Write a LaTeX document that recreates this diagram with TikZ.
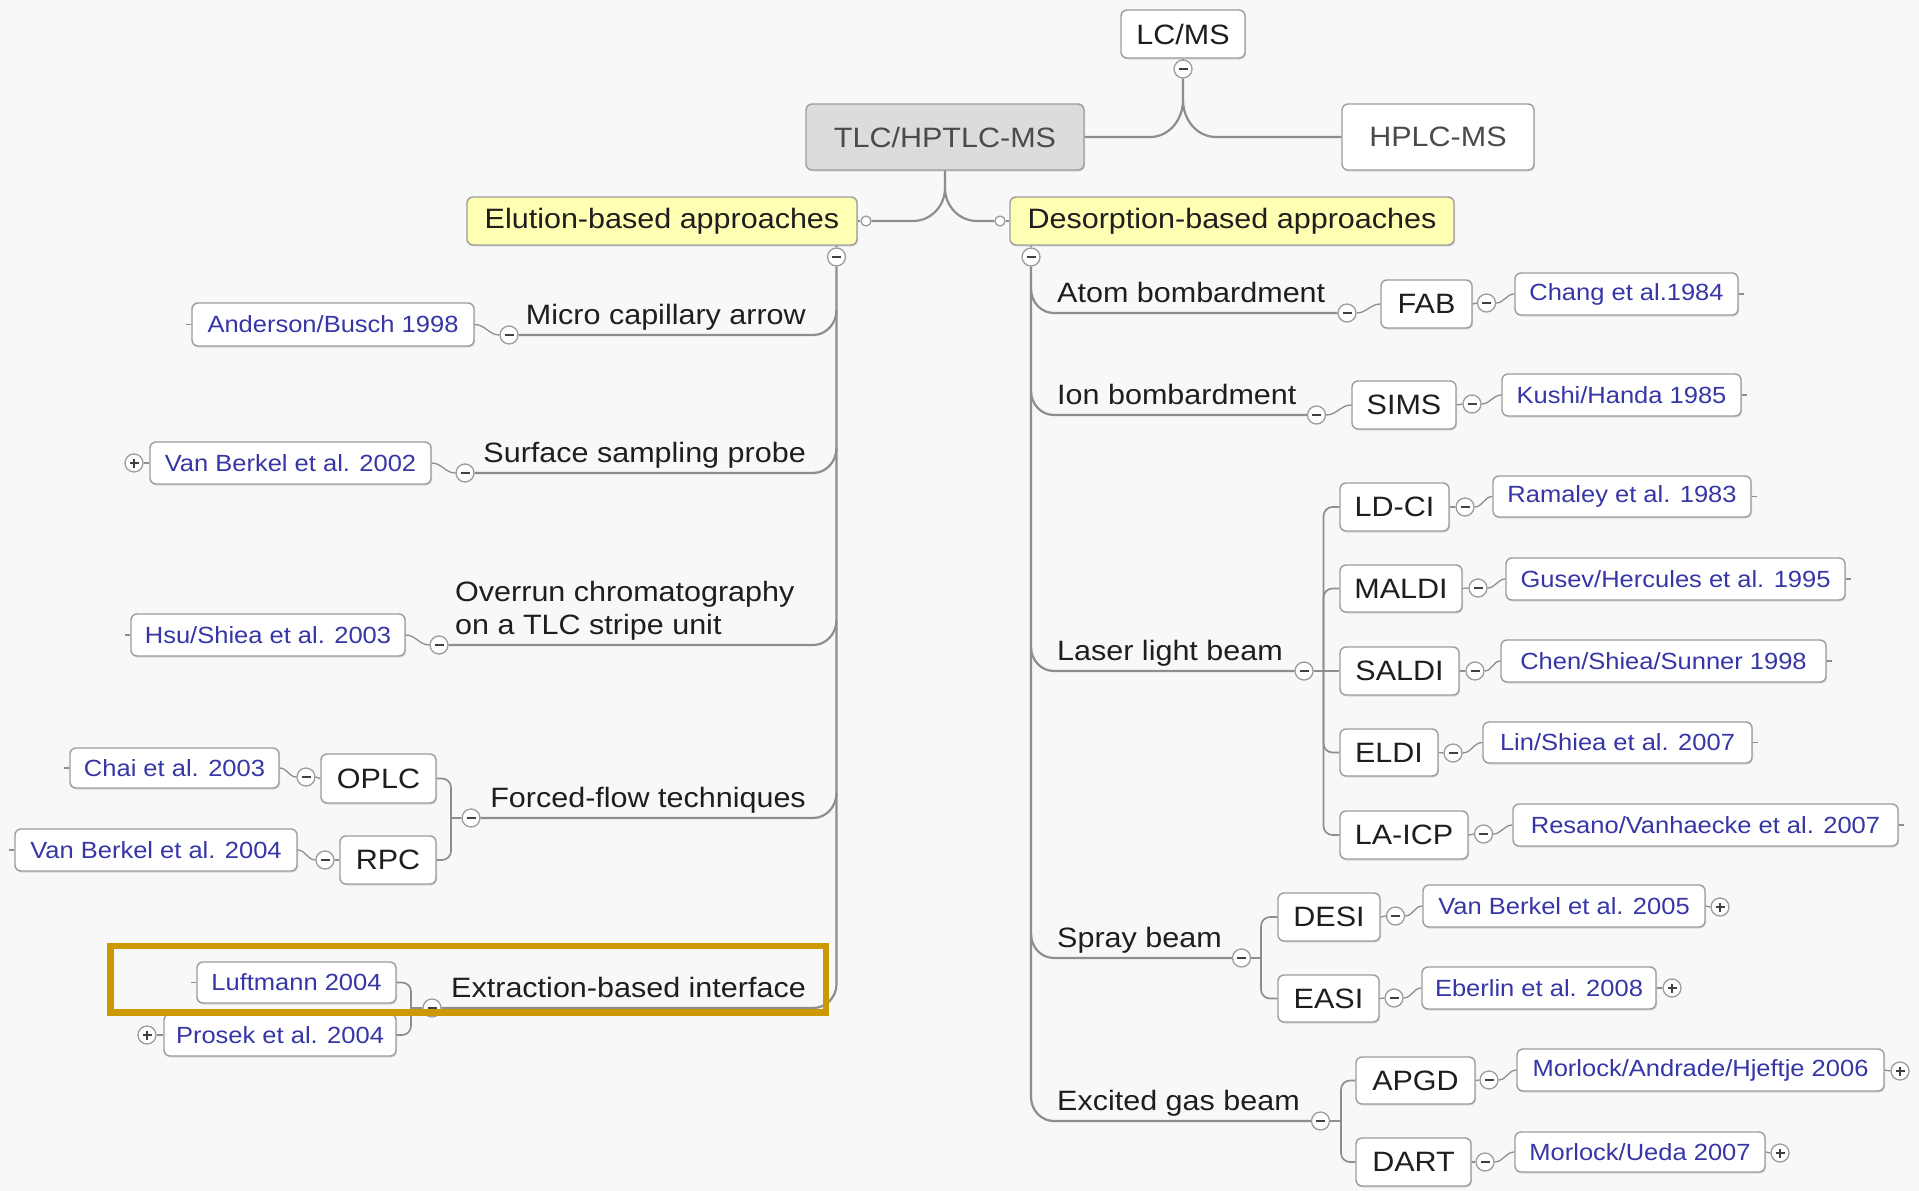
\documentclass[tikz,border=0pt]{standalone}
\usepackage{fontspec}
\setmainfont{Liberation Sans}[FakeStretch=1.09]
\usetikzlibrary{shadows}
\definecolor{bg}{HTML}{F8F8F8}
\definecolor{lnc}{HTML}{8E8E8E}
\definecolor{bdr}{HTML}{9C9C9C}
\definecolor{refblue}{HTML}{3636A6}
\definecolor{hl}{HTML}{CC9900}
\definecolor{yel}{HTML}{FFFFB4}
\definecolor{rootgray}{HTML}{DCDCDC}
\definecolor{txt}{HTML}{1E1E1E}
\tikzset{
 mbox/.style={draw=bdr, line width=1.4pt, rounded corners=6pt, fill=white, inner sep=0pt,
   align=center, text=txt, font=\fontsize{28}{33}\selectfont,
   general shadow={shadow xshift=1pt, shadow yshift=-1.5pt, fill=black, opacity=0.12}},
 refbox/.style={mbox, text=refblue, font=\fontsize{23.4}{27}\selectfont},
 lbl/.style={inner sep=0pt, text=txt, font=\fontsize{28}{33}\selectfont},
 conn/.style={draw=lnc, line width=2.2pt},
 rline/.style={draw=lnc, line width=1.3pt},
 brk/.style={draw=lnc, line width=1.7pt, rounded corners=9pt},
 mcirc/.style={circle, draw=bdr, fill=white, line width=1.3pt, minimum size=18pt, inner sep=0pt,
   path picture={\draw[line width=2pt, black!75] ([xshift=-4.5pt]path picture bounding box.center) -- ([xshift=4.5pt]path picture bounding box.center);}},
 pcirc/.style={mcirc,
   path picture={\draw[line width=2pt, black!75] ([xshift=-4.5pt]path picture bounding box.center) -- ([xshift=4.5pt]path picture bounding box.center);
                 \draw[line width=2pt, black!75] ([yshift=-4.5pt]path picture bounding box.center) -- ([yshift=4.5pt]path picture bounding box.center);}},
 hol/.style={circle, draw=bdr, fill=white, line width=1.3pt, minimum size=10pt, inner sep=0pt},
}
\begin{document}
\begin{tikzpicture}[x=1pt,y=-1pt]
\fill[bg] (0,0) rectangle (1919,1191);
\useasboundingbox (0,0) rectangle (1919,1191);

% ---------- top level ----------
\node[mbox, minimum width=124pt, minimum height=48pt] (lcms) at (1183,34) {LC/MS};
\node[mcirc] (cLcms) at (1183,69) {};
\node[mbox, fill=rootgray, text=txt!80, minimum width=278pt, minimum height=66pt] (tlc) at (945,137) {TLC/HPTLC-MS};
\node[mbox, text=txt!80, minimum width=192pt, minimum height=66pt] (hplc) at (1438,137) {HPLC-MS};
\node[mbox, fill=yel, minimum width=390pt, minimum height=48pt] (elu) at (662,221) {Elution-based approaches};
\node[mbox, fill=yel, minimum width=444pt, minimum height=48pt] (des) at (1232,221) {Desorption-based approaches};
\node[hol] (hElu) at (866,221) {};
\node[hol] (hDes) at (1000,221) {};
\node[mcirc] (cElu) at (836.5,257) {};
\node[mcirc] (cDes) at (1031,257) {};

% ---------- left labels ----------
\node[lbl, anchor=base east] (micro) at (806,324) {Micro capillary arrow};
\node[lbl, anchor=base east] (surf) at (806,462) {Surface sampling probe};
\node[lbl, anchor=base west] (over1) at (455,601) {Overrun chromatography};
\node[lbl, anchor=base west] (over2) at (455,634) {on a TLC stripe unit};
\node[lbl, anchor=base east] (forced) at (806,807) {Forced-flow techniques};
\node[lbl, anchor=base east] (extr) at (806,997) {Extraction-based interface};

\node[mcirc] (cMicro) at (509,335) {};
\node[mcirc] (cSurf) at (465,473) {};
\node[mcirc] (cOver) at (439,645) {};
\node[mcirc] (cForced) at (471,818) {};
\node[mcirc] (cChai) at (306,777) {};
\node[mcirc] (cRpc) at (325,860) {};
\node[mcirc] (cExt) at (432,1008) {};
\node[pcirc] (pVbA) at (134,463) {};
\node[pcirc] (pProsek) at (147,1035) {};

\node[refbox, minimum width=282pt, minimum height=43pt] (anderson) at (333,324.5) {Anderson/Busch 1998};
\node[refbox, minimum width=281pt, minimum height=42pt] (vbA) at (290.5,463) {Van Berkel et al. 2002};
\node[refbox, minimum width=274pt, minimum height=42pt] (hsu) at (268,635) {Hsu/Shiea et al. 2003};
\node[refbox, minimum width=209pt, minimum height=40pt] (chai) at (174.5,768) {Chai et al. 2003};
\node[mbox, minimum width=115pt, minimum height=49pt] (oplc) at (378.5,778.5) {OPLC};
\node[refbox, minimum width=282pt, minimum height=42pt] (vbB) at (156,850) {Van Berkel et al. 2004};
\node[mbox, minimum width=96pt, minimum height=48pt] (rpc) at (388,860) {RPC};
\node[refbox, minimum width=199pt, minimum height=41pt] (luft) at (296.5,982.5) {Luftmann 2004};
\node[refbox, minimum width=232pt, minimum height=42pt] (prosek) at (280,1035) {Prosek et al. 2004};

% ---------- right labels ----------
\node[lbl, anchor=base west] (atom) at (1057,302) {Atom bombardment};
\node[lbl, anchor=base west] (ion) at (1057,404) {Ion bombardment};
\node[lbl, anchor=base west] (laser) at (1057,660) {Laser light beam};
\node[lbl, anchor=base west] (spray) at (1057,947) {Spray beam};
\node[lbl, anchor=base west] (excited) at (1057,1110) {Excited gas beam};

\node[mcirc] (cAtom) at (1347,313) {};
\node[mcirc] (cIon) at (1316.5,415) {};
\node[mcirc] (cLaser) at (1304,671) {};
\node[mcirc] (cSpray) at (1241.5,958) {};
\node[mcirc] (cExcited) at (1320.5,1121) {};

\node[mbox, minimum width=91pt, minimum height=48pt] (fab) at (1426.5,304) {FAB};
\node[mbox, minimum width=104pt, minimum height=48pt] (sims) at (1404,405) {SIMS};
\node[mbox, minimum width=109pt, minimum height=48pt] (ldci) at (1394.5,507) {LD-CI};
\node[mbox, minimum width=122pt, minimum height=47pt] (maldi) at (1401,588.5) {MALDI};
\node[mbox, minimum width=119pt, minimum height=48pt] (saldi) at (1399.5,671) {SALDI};
\node[mbox, minimum width=98pt, minimum height=47pt] (eldi) at (1389,752.5) {ELDI};
\node[mbox, minimum width=128pt, minimum height=48pt] (laicp) at (1404,835) {LA-ICP};
\node[mbox, minimum width=102pt, minimum height=48pt] (desi) at (1329,917) {DESI};
\node[mbox, minimum width=101pt, minimum height=47pt] (easi) at (1328.5,998.5) {EASI};
\node[mbox, minimum width=119pt, minimum height=47pt] (apgd) at (1415.5,1080.5) {APGD};
\node[mbox, minimum width=115pt, minimum height=48pt] (dart) at (1413.5,1162) {DART};

\node[mcirc] (cFab) at (1486.5,303) {};
\node[mcirc] (cSims) at (1472,404) {};
\node[mcirc] (cLdci) at (1465,507) {};
\node[mcirc] (cMaldi) at (1478,588) {};
\node[mcirc] (cSaldi) at (1475,671) {};
\node[mcirc] (cEldi) at (1453,753) {};
\node[mcirc] (cLaicp) at (1483.5,834) {};
\node[mcirc] (cDesi) at (1395.5,916) {};
\node[mcirc] (cEasi) at (1394,998) {};
\node[mcirc] (cApgd) at (1489,1080) {};
\node[mcirc] (cDart) at (1485,1162) {};

\node[refbox, minimum width=223pt, minimum height=42pt] (chang) at (1626.5,294) {Chang et al.1984};
\node[refbox, minimum width=239pt, minimum height=42pt] (kushi) at (1621.5,395) {Kushi/Handa 1985};
\node[refbox, minimum width=258pt, minimum height=41pt] (ramaley) at (1622,496.5) {Ramaley et al. 1983};
\node[refbox, minimum width=339pt, minimum height=42pt] (gusev) at (1675.5,579) {Gusev/Hercules et al. 1995};
\node[refbox, minimum width=325pt, minimum height=42pt] (chen) at (1663.5,661) {Chen/Shiea/Sunner 1998};
\node[refbox, minimum width=269pt, minimum height=41pt] (lin) at (1617.5,742.5) {Lin/Shiea et al. 2007};
\node[refbox, minimum width=385pt, minimum height=42pt] (resano) at (1705.5,825) {Resano/Vanhaecke et al. 2007};
\node[refbox, minimum width=282pt, minimum height=42pt] (vbC) at (1564,906) {Van Berkel et al. 2005};
\node[refbox, minimum width=234pt, minimum height=42pt] (eberlin) at (1539,988) {Eberlin et al. 2008};
\node[refbox, minimum width=367pt, minimum height=42pt] (morA) at (1700.5,1070) {Morlock/Andrade/Hjeftje 2006};
\node[refbox, minimum width=250pt, minimum height=40pt] (morU) at (1640,1152) {Morlock/Ueda 2007};

\node[pcirc] (pVbC) at (1720,907) {};
\node[pcirc] (pEberlin) at (1672,988) {};
\node[pcirc] (pMorA) at (1900,1071) {};
\node[pcirc] (pMorU) at (1780,1153) {};

% ---------- connectors: top ----------
\coordinate (jTop) at (1183,100);
\draw[conn] (lcms.south) -- (cLcms.north);
\draw[conn] (cLcms.south) -- (jTop) to[out=-90,in=0] (1150,137) -- (tlc.east);
\draw[conn] (jTop) to[out=-90,in=180] (1216,137) -- (hplc.west);
\coordinate (jRoot) at (945,188);
\draw[conn] (tlc.south) -- (jRoot) to[out=-90,in=0] (913,221) -- (hElu.east);
\draw[conn] (jRoot) to[out=-90,in=180] (977,221) -- (hDes.west);
\draw[rline] (hElu.west) -- (elu.east);
\draw[rline] (hDes.east) -- (des.west);
\draw[conn] (elu.south -| cElu) -- (cElu.north);
\draw[conn] (des.south -| cDes) -- (cDes.north);

% ---------- left trunk ----------
\draw[conn] (cElu.south) -- (836.5,984) to[out=-90,in=0] (813,1008) -- (cExt.east);
\draw[conn] (836.5,310) to[out=-90,in=0] (813,335) -- (cMicro.east);
\draw[conn] (836.5,448) to[out=-90,in=0] (813,473) -- (cSurf.east);
\draw[conn] (836.5,620) to[out=-90,in=0] (813,645) -- (cOver.east);
\draw[conn] (836.5,793) to[out=-90,in=0] (813,818) -- (cForced.east);

\draw[rline] (cMicro.west) to[out=180,in=0] (anderson.east);
\draw[rline] (anderson.west) -- ++(-5,0);
\draw[rline] (cSurf.west) to[out=180,in=0] (vbA.east);
\draw[rline] (pVbA.east) -- (vbA.west);
\draw[rline] (cOver.west) to[out=180,in=0] (hsu.east);
\draw[rline] (hsu.west) -- ++(-5,0);

\coordinate (jForced) at (451,818);
\draw[brk] (oplc.east) -| (jForced) |- (rpc.east);
\draw[rline] (jForced) -- (cForced.west);
\draw[rline] (oplc.west) -- (cChai.east);
\draw[rline] (cChai.west) to[out=180,in=0] (chai.east);
\draw[rline] (chai.west) -- ++(-5,0);
\draw[rline] (rpc.west) -- (cRpc.east);
\draw[rline] (cRpc.west) to[out=180,in=0] (vbB.east);
\draw[rline] (vbB.west) -- ++(-5,0);

\coordinate (jExt) at (411,1008);
\draw[brk] (luft.east) -| (jExt) |- (prosek.east);
\draw[rline] (jExt) -- (cExt.west);
\draw[rline] (luft.west) -- ++(-5,0);
\draw[rline] (pProsek.east) -- (prosek.west);

% ---------- right trunk ----------
\draw[conn] (cDes.south) -- (1031,1097) to[out=-90,in=180] (1054,1121) -- (cExcited.west);
\draw[conn] (1031,289) to[out=-90,in=180] (1054,313) -- (cAtom.west);
\draw[conn] (1031,391) to[out=-90,in=180] (1054,415) -- (cIon.west);
\draw[conn] (1031,647) to[out=-90,in=180] (1054,671) -- (cLaser.west);
\draw[conn] (1031,934) to[out=-90,in=180] (1054,958) -- (cSpray.west);

\draw[rline] (cAtom.east) to[out=0,in=180] (fab.west);
\draw[rline] (fab.east) -- (cFab.west);
\draw[rline] (cFab.east) to[out=0,in=180] (chang.west);
\draw[rline] (chang.east) -- ++(5,0);

\draw[rline] (cIon.east) to[out=0,in=180] (sims.west);
\draw[rline] (sims.east) -- (cSims.west);
\draw[rline] (cSims.east) to[out=0,in=180] (kushi.west);
\draw[rline] (kushi.east) -- ++(5,0);

\coordinate (jLaser) at (1323.5,671);
\draw[brk] (ldci.west) -| (jLaser) |- (laicp.west);
\draw[brk] (jLaser) |- (maldi.west);
\draw[brk] (jLaser) |- (eldi.west);
\draw[rline] (cLaser.east) -- (saldi.west);
\draw[rline] (ldci.east) -- (cLdci.west);
\draw[rline] (cLdci.east) to[out=0,in=180] (ramaley.west);
\draw[rline] (ramaley.east) -- ++(5,0);
\draw[rline] (maldi.east) -- (cMaldi.west);
\draw[rline] (cMaldi.east) to[out=0,in=180] (gusev.west);
\draw[rline] (gusev.east) -- ++(5,0);
\draw[rline] (saldi.east) -- (cSaldi.west);
\draw[rline] (cSaldi.east) to[out=0,in=180] (chen.west);
\draw[rline] (chen.east) -- ++(5,0);
\draw[rline] (eldi.east) -- (cEldi.west);
\draw[rline] (cEldi.east) to[out=0,in=180] (lin.west);
\draw[rline] (lin.east) -- ++(5,0);
\draw[rline] (laicp.east) -- (cLaicp.west);
\draw[rline] (cLaicp.east) to[out=0,in=180] (resano.west);
\draw[rline] (resano.east) -- ++(5,0);

\coordinate (jSpray) at (1261,958);
\draw[brk] (desi.west) -| (jSpray) |- (easi.west);
\draw[rline] (cSpray.east) -- (jSpray);
\draw[rline] (desi.east) -- (cDesi.west);
\draw[rline] (cDesi.east) to[out=0,in=180] (vbC.west);
\draw[rline] (vbC.east) -- (pVbC.west);
\draw[rline] (easi.east) -- (cEasi.west);
\draw[rline] (cEasi.east) to[out=0,in=180] (eberlin.west);
\draw[rline] (eberlin.east) -- (pEberlin.west);

\coordinate (jExc) at (1341,1121);
\draw[brk] (apgd.west) -| (jExc) |- (dart.west);
\draw[rline] (cExcited.east) -- (jExc);
\draw[rline] (apgd.east) -- (cApgd.west);
\draw[rline] (cApgd.east) to[out=0,in=180] (morA.west);
\draw[rline] (morA.east) -- (pMorA.west);
\draw[rline] (dart.east) -- (cDart.west);
\draw[rline] (cDart.east) to[out=0,in=180] (morU.west);
\draw[rline] (morU.east) -- (pMorU.west);

% ---------- highlight ----------
\draw[hl, line width=6.5pt] (110.5,946) rectangle (826,1012.5);
\end{tikzpicture}
\end{document}
